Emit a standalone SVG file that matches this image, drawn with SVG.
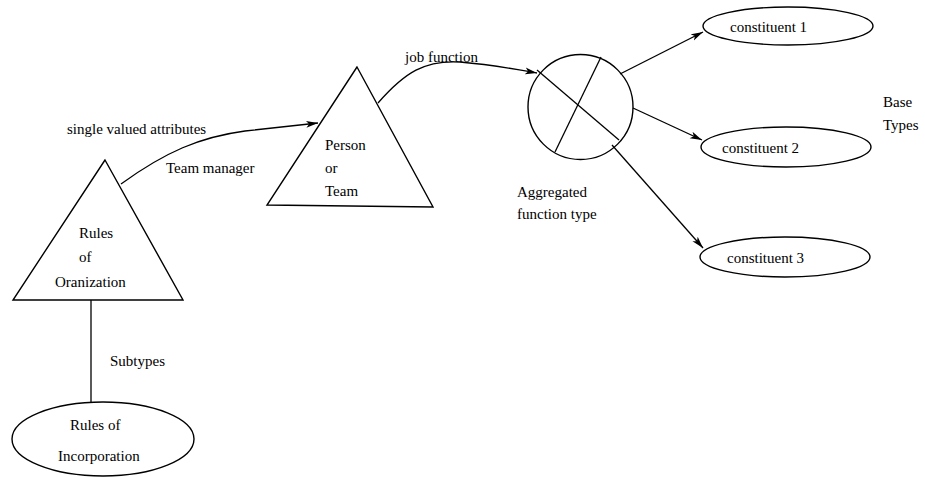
<svg xmlns="http://www.w3.org/2000/svg" width="925" height="477" viewBox="0 0 925 477">
<style>
.s{fill:none;stroke:#000;stroke-width:1.4}
.t{font-family:"Liberation Serif","Times New Roman",serif;font-size:15px;fill:#000}
.c{stroke:#000;stroke-width:1.3;fill:none}
</style>
<defs>
<marker id="ah" viewBox="0 0 12 8" refX="12" refY="4" markerWidth="12" markerHeight="8" markerUnits="userSpaceOnUse" orient="auto">
<path d="M0,0.5 L12,4 L0,7.5 L3,4 Z" fill="#000"/>
</marker>
</defs>
<rect width="925" height="477" fill="#fff"/>
<g id="connectors">
<path class="c" d="M121,184 C165,152 200,137 245,131 L318,123" marker-end="url(#ah)"/>
<path class="c" d="M378,103 C405,72 425,60 460,62 C495,65 515,69 537,73" marker-end="url(#ah)"/>
<line class="c" x1="91" y1="300" x2="91" y2="402"/>
<line class="c" x1="620" y1="74" x2="703" y2="32" marker-end="url(#ah)"/>
<line class="c" x1="633" y1="108" x2="702" y2="140" marker-end="url(#ah)"/>
<line class="c" x1="612" y1="145" x2="703" y2="248" marker-end="url(#ah)"/>
<text class="t" x="67" y="134">single valued attributes</text>
<text class="t" x="166" y="173">Team manager</text>
<text class="t" x="405" y="62">job function</text>
<text class="t" x="110" y="366">Subtypes</text>
</g>
<g id="rules-of-organization">
<polygon class="s" points="105,160 13,300 183,300"/>
<text class="t" x="79" y="238">Rules</text>
<text class="t" x="79" y="262">of</text>
<text class="t" x="55" y="287">Oranization</text>
</g>
<g id="rules-of-incorporation">
<ellipse class="s" cx="103" cy="439" rx="91" ry="37"/>
<text class="t" x="70" y="430">Rules of</text>
<text class="t" x="58" y="461">Incorporation</text>
</g>
<g id="person-or-team">
<polygon class="s" points="357,67 267,205 433,207"/>
<text class="t" x="325" y="150">Person</text>
<text class="t" x="325" y="173">or</text>
<text class="t" x="325" y="196">Team</text>
</g>
<g id="aggregated-function-type">
<circle class="s" cx="580.5" cy="107" r="52.5"/>
<line class="c" x1="537" y1="70" x2="619" y2="140"/>
<line class="c" x1="601" y1="57" x2="555" y2="152"/>
<text class="t" x="517" y="197">Aggregated</text>
<text class="t" x="517" y="219">function type</text>
</g>
<g id="constituent-1">
<ellipse class="s" cx="788" cy="26" rx="85" ry="19"/>
<text class="t" x="730" y="32">constituent 1</text>
</g>
<g id="constituent-2">
<ellipse class="s" cx="786" cy="147" rx="85" ry="20"/>
<text class="t" x="722" y="153">constituent 2</text>
</g>
<g id="constituent-3">
<ellipse class="s" cx="785" cy="257" rx="85" ry="20"/>
<text class="t" x="727" y="263">constituent 3</text>
</g>
<g id="base-types">
<text class="t" x="883" y="107">Base</text>
<text class="t" x="883" y="130">Types</text>
</g>
</svg>
